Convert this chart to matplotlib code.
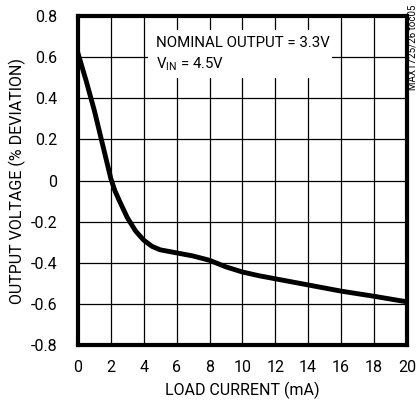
import matplotlib
matplotlib.use("Agg")
import matplotlib.pyplot as plt
from matplotlib.patches import Rectangle

# load current (mA) vs output voltage deviation (%)
load_ma = [0, 0.5, 1, 1.5, 2, 2.25, 2.5, 3, 3.5, 4, 4.5, 5, 6, 7, 8, 9, 10, 11, 12, 14, 16, 18, 20]
dev_pct = [0.62, 0.485, 0.34, 0.175, 0.01, -0.05, -0.095, -0.18, -0.245, -0.29, -0.32, -0.337,
           -0.352, -0.367, -0.388, -0.42, -0.445, -0.463, -0.478, -0.508, -0.538, -0.563, -0.59]

x_ticks = list(range(0, 21, 2))
y_ticks = [0.8, 0.6, 0.4, 0.2, 0, -0.2, -0.4, -0.6, -0.8]
y_labels = ["0.8", "0.6", "0.4", "0.2", "0", "-0.2", "-0.4", "-0.6", "-0.8"]

plt.rcParams['font.family'] = ['Roboto', 'DejaVu Sans']
plt.rcParams['mathtext.fontset'] = 'custom'
plt.rcParams['mathtext.rm'] = 'Roboto'

fig = plt.figure(figsize=(4.19, 4.03), dpi=100)
ax = fig.add_axes([0.186, 0.144, 0.785, 0.816])

ax.plot(load_ma, dev_pct, color="black", lw=3.5, solid_joinstyle="round", zorder=4)

ax.set_xlim(0, 20)
ax.set_ylim(-0.8, 0.8)
ax.set_xticks(x_ticks)
ax.set_xticklabels([str(t) for t in x_ticks])
ax.set_yticks(y_ticks)
ax.set_yticklabels(y_labels)
ax.tick_params(length=0, labelsize=11.5, pad=11)
ax.tick_params(axis="y", pad=15)
ax.grid(True, color="black", lw=0.9)
ax.set_axisbelow(True)
for s in ax.spines.values():
    s.set_linewidth(3)

ax.set_xlabel("LOAD CURRENT (mA)", fontsize=11.5, labelpad=5)
ax.set_ylabel("OUTPUT VOLTAGE (% DEVIATION)", fontsize=11.5, labelpad=3)

# white box behind the note
ax.add_patch(Rectangle((4.24, 0.498), 11.2, 0.234, facecolor="white",
                       edgecolor="none", zorder=2))
ax.text(4.75, 0.67, "NOMINAL OUTPUT = 3.3V", fontsize=10.8, va="center", zorder=3)
ax.text(4.75, 0.565, r"V$_{\mathrm{IN}}$ = 4.5V", fontsize=10.8, va="center", zorder=3)

fig.text(0.984, 0.988, "MAX1725/26 toc05", rotation=90, fontsize=7,
         ha="center", va="top")

fig.savefig("out.png", dpi=100)
